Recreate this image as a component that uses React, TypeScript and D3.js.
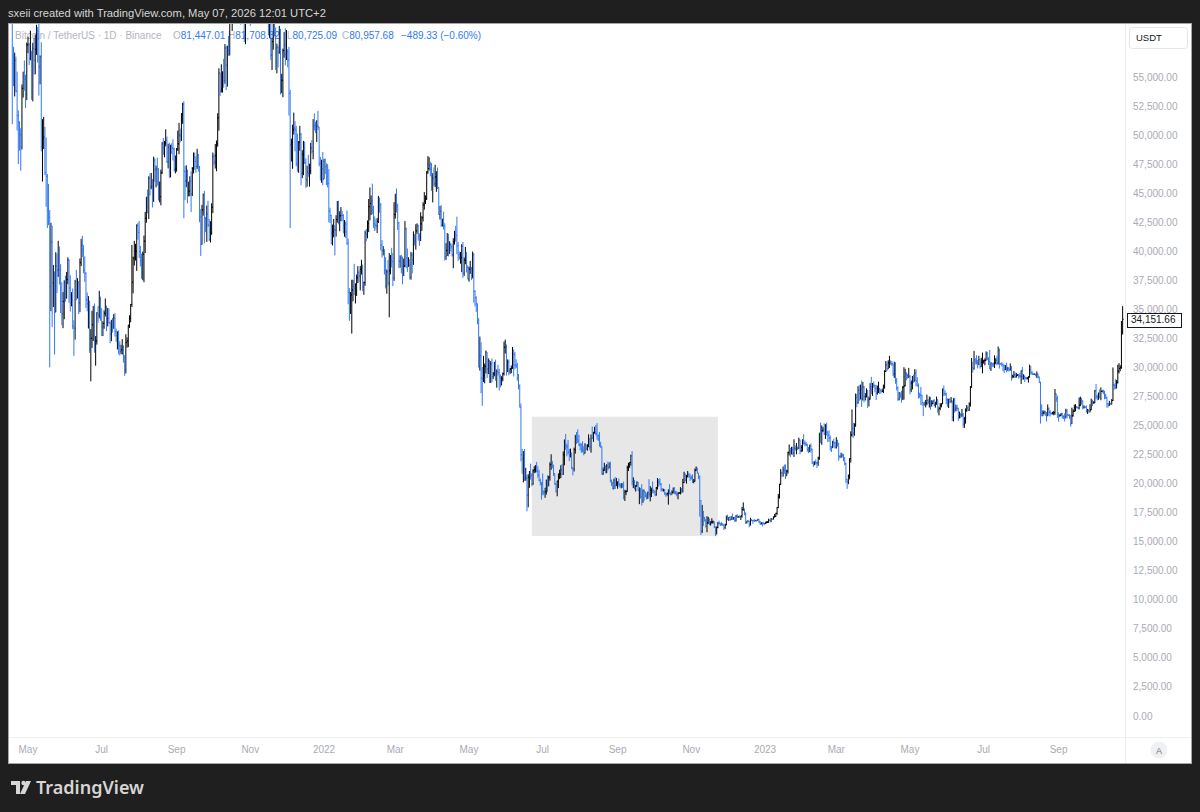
import React from 'react';
import * as d3 from 'd3';

// BTC/USDT 1D (Binance). Opens are the previous day's close.
const seriesStart = '2021-04-16';
const firstOpen = 63158;

// 2021-04-16 .. 2021-12-31
const closes2021 = [
  61334, 60006, 56150, 55633, 56425, 53787, 51690, 51125, 50047, 49004, 54021, 55033, 54824, 53555, 57750,
  57828, 56610, 57213, 53241, 57473, 56428, 57380, 58928, 58280, 55883, 56750, 49007, 49716, 49880, 46760, 46456, 43538, 42910, 36964, 40784, 37281, 37528, 34770, 38706, 38396, 39294, 38436, 35698, 34617, 35678, 37332,
  36694, 37568, 39246, 36829, 35514, 35796, 33552, 33380, 37389, 36663, 37313, 35551, 39020, 40516, 40144, 38349, 38092, 35820, 35484, 35600, 31608, 32509, 33679, 34663, 31584, 32283, 34700, 34494, 35911, 35045,
  33504, 33786, 34669, 35286, 33690, 34220, 33862, 32875, 33815, 33502, 34258, 33086, 32729, 32820, 31881, 31383, 31520, 31778, 30839, 29790, 32144, 32287, 33634, 34258, 35425, 37337, 39406, 39995, 40008, 42235, 41626,
  39975, 39201, 38152, 39747, 40869, 42836, 44614, 43829, 46285, 45543, 45606, 44428, 47834, 47024, 47100, 45973, 44696, 44705, 46760, 49339, 48905, 49321, 49546, 47706, 48960, 46942, 49058, 48903, 48811, 46991, 47112,
  48810, 49246, 49999, 49915, 51756, 52663, 46863, 46048, 46395, 44850, 45174, 46025, 44940, 47112, 48122, 47737, 47300, 48314, 47255, 42960, 40587, 43560, 44883, 42836, 42717, 43208, 42236, 41034, 41564, 43790,
  48165, 47657, 48233, 49245, 51493, 55340, 53797, 53963, 54966, 54691, 57485, 56006, 57374, 57347, 61672, 60875, 61528, 62010, 64261, 65992, 62210, 60692, 61393, 60930, 63039, 60364, 58482, 60622, 62227, 61888, 61318,
  61004, 63227, 62970, 61452, 61125, 61527, 63326, 67566, 66971, 64882, 64774, 64122, 64380, 65519, 63607, 60058, 60344, 56891, 58052, 59707, 58622, 56247, 57541, 57138, 58960, 53726, 54721, 57274, 57776, 56950,
  57185, 56480, 53601, 49152, 49397, 50441, 50588, 50471, 47545, 47140, 49389, 50053, 46702, 48343, 48864, 47632, 46131, 46834, 46681, 46914, 48889, 48588, 50838, 50820, 50400, 50775, 50701, 47543, 46465, 47120, 46216,
];
const highs2021 = [
  63520, 62500, 60499, 57600, 57100, 56757, 55460, 52130, 51166, 50591, 54356, 55460, 56428, 55195, 57963,
  58458, 57911, 58981, 57200, 57939, 58360, 58650, 59500, 59300, 59595, 56862, 58000, 51367, 51570, 50700, 49800, 46650, 45800, 43546, 42451, 42200, 38829, 38270, 39920, 39800, 40900, 40411, 38889, 37338, 36488, 37499,
  37894, 38225, 39476, 39289, 37925, 36480, 36800, 34068, 37534, 38400, 37680, 37439, 39380, 41064, 41330, 40527, 39559, 38202, 36457, 36139, 35750, 33298, 34881, 35298, 35500, 32700, 34749, 35297, 36600, 36100,
  35057, 33977, 34909, 35937, 35293, 35118, 35059, 33929, 34100, 34262, 34592, 34679, 33340, 33114, 33185, 32249, 31950, 32435, 31899, 31063, 32858, 32591, 33650, 34500, 35450, 40550, 39542, 40900, 40640, 42316, 42448,
  42599, 40459, 39785, 39969, 41350, 43392, 44700, 45310, 46456, 46700, 46743, 46218, 48144, 48000, 47372, 48053, 47160, 46000, 47033, 49382, 49757, 49500, 50500, 49875, 49251, 49349, 49170, 49311, 49646, 48909, 48246,
  48888, 50392, 51053, 50558, 51900, 52780, 52920, 47340, 47399, 47033, 45987, 46460, 46880, 47250, 48500, 48500, 48170, 48818, 48375, 47355, 43638, 44000, 44978, 45200, 42965, 43937, 44350, 42787, 42590, 44132,
  48495, 48336, 49228, 49536, 51886, 55750, 55338, 56100, 55489, 56561, 57839, 57680, 57700, 58532, 62933, 62000, 61720, 62695, 64486, 67000, 66639, 63732, 61747, 61500, 63710, 63293, 61497, 62499, 62980, 62359, 62405,
  62437, 64270, 63500, 63086, 62590, 61560, 63330, 67789, 68530, 69000, 65600, 65460, 64972, 65550, 66401, 63617, 60840, 60976, 58366, 59845, 60029, 59266, 57875, 57700, 59398, 59150, 55280, 57445, 58865, 59176,
  59041, 57400, 57600, 53904, 49699, 50891, 51936, 51200, 50797, 50125, 49485, 50797, 50189, 48700, 49500, 49436, 47995, 47360, 48300, 47537, 49328, 49576, 51375, 51868, 51156, 51280, 52088, 50704, 48119, 47879, 48548,
];
const lows2021 = [
  60000, 59580, 50931, 54221, 53329, 53695, 50400, 47500, 48657, 46930, 48753, 53222, 53813, 52330, 53013,
  57052, 56035, 56435, 53046, 52900, 55200, 55241, 56900, 56235, 53400, 54370, 48600, 46000, 48800, 46560, 43825, 42001, 42250, 30000, 34850, 33488, 35200, 31111, 34800, 36419, 37800, 37134, 34684, 33632, 33379, 34153,
  35666, 35920, 37170, 35567, 34800, 35258, 33300, 31000, 32397, 35783, 35936, 34600, 34757, 38730, 39506, 38116, 37365, 35129, 34833, 33350, 31251, 28805, 31683, 32286, 31275, 30151, 31970, 33862, 34225, 34017,
  32711, 32699, 33330, 34390, 33125, 33532, 33777, 32077, 32261, 33005, 33320, 32658, 32202, 31550, 31133, 31020, 31164, 31108, 30407, 29278, 29482, 31708, 31750, 33401, 33881, 35205, 36383, 38772, 39200, 38313, 41000,
  39422, 38690, 37627, 37508, 37332, 39853, 42450, 43261, 42779, 44800, 45341, 43770, 44250, 45971, 45500, 45660, 44376, 44203, 43955, 46644, 48300, 48088, 49030, 47600, 47136, 46315, 46362, 48370, 47812, 46870, 46700,
  46853, 48631, 48353, 49370, 49495, 50969, 42843, 44412, 45514, 44132, 44722, 44742, 43370, 44750, 46700, 47020, 46750, 47088, 46850, 42500, 39600, 40565, 43069, 40675, 41646, 40803, 42098, 40888, 40753, 41410,
  43283, 47430, 47120, 46891, 49000, 50382, 53357, 53661, 53661, 54080, 54415, 53879, 54167, 56818, 56850, 60150, 58963, 60876, 61322, 63481, 62000, 60000, 59668, 59510, 60650, 59817, 58000, 57820, 60174, 60673, 59945,
  59405, 60624, 60382, 60677, 60721, 60050, 61322, 63300, 66382, 62822, 64100, 62333, 63400, 63576, 63400, 58574, 58373, 56474, 55600, 57353, 58486, 55610, 55317, 55837, 57000, 53500, 53610, 53256, 56666, 56000,
  56458, 55837, 51680, 42000, 47727, 47100, 50039, 48600, 47320, 46852, 46751, 48650, 45672, 46290, 46547, 47511, 45456, 45555, 46406, 45558, 46630, 48421, 47920, 50400, 50171, 49412, 50449, 47313, 46096, 45900, 45678,
];

// 2022-01-01 .. 2022-12-31
const closes2022 = [
  47722, 47286, 46446, 45833, 43451, 43082, 41567, 41671, 41864, 41822, 42729, 43903, 42560, 43059, 43084, 43071, 42201, 42352, 41660, 40680, 36445, 35071, 36244, 36660, 36958, 36809, 37160, 37716, 38166, 37881, 38466,
  38694, 36896, 37311, 41574, 41382, 42380, 43840, 44118, 44338, 43565, 42407, 42244, 42197, 42586, 44575, 43961, 40538, 40030, 40123, 38386, 37008, 38230, 37250, 38328, 39219, 39116, 37699, 43160,
  44421, 43892, 42454, 39148, 39397, 38420, 37988, 38730, 41941, 39422, 38730, 38807, 37777, 39671, 39280, 41114, 40917, 41757, 42201, 41262, 41002, 42364, 42882, 43991, 44313, 44511, 46827, 47122, 47434, 47067, 45510,
  46283, 45811, 46407, 46580, 45497, 43170, 43445, 42252, 42753, 42158, 39530, 40074, 41147, 39942, 40551, 40378, 39678, 40801, 41493, 41358, 40480, 39709, 39441, 39450, 40427, 38112, 39235, 39742, 38596, 37630,
  38468, 38525, 37728, 39690, 36552, 36013, 35472, 34038, 30077, 31017, 29104, 28995, 29283, 30101, 31305, 29862, 30425, 28720, 30314, 29201, 29445, 30293, 29109, 29655, 29542, 29201, 28629, 29031, 29468, 31735, 31802,
  29805, 30452, 29700, 29864, 29920, 31373, 31125, 30205, 30110, 29091, 28424, 26574, 22487, 22136, 22583, 20401, 20469, 19017, 20554, 20720, 20719, 19987, 21111, 21227, 21493, 21039, 20730, 20280, 20105, 19942,
  19279, 19252, 19315, 20231, 20190, 20548, 21637, 21731, 21592, 20860, 19970, 19323, 20212, 20569, 20837, 21191, 20782, 22485, 23389, 23231, 23164, 22714, 22465, 22609, 21361, 21239, 22930, 23843, 23804, 23656, 23336,
  23314, 22978, 22846, 22630, 23289, 22961, 23175, 23810, 23150, 23954, 23935, 24404, 24442, 24306, 24102, 23855, 23343, 23191, 20834, 21140, 21516, 21400, 21529, 21368, 21560, 20241, 20037, 19555, 20285, 19811, 20050,
  20131, 19951, 19832, 19986, 19812, 18837, 19290, 19319, 21361, 21652, 21826, 22395, 20173, 20226, 19701, 19803, 20113, 19416, 19537, 18875, 18461, 19401, 19289, 18920, 18807, 19226, 19079, 19412, 19591, 19422,
  19310, 19056, 19629, 20337, 20158, 19955, 19531, 19417, 19446, 19141, 19052, 19157, 19382, 19185, 19068, 19268, 19550, 19334, 19139, 19053, 19172, 19208, 19567, 19345, 20095, 20771, 20295, 20591, 20810, 20627, 20491,
  20483, 20151, 20207, 21148, 21300, 20905, 20591, 18547, 15922, 17601, 17070, 16813, 16330, 16620, 16900, 16662, 16692, 16700, 16700, 16280, 15781, 16226, 16603, 16598, 16522, 16458, 16428, 16213, 16442, 17163,
  16980, 17094, 16886, 17108, 16966, 17089, 16836, 17224, 17128, 17128, 17085, 17208, 17775, 17804, 17357, 16633, 16776, 16738, 16439, 16896, 16824, 16822, 16778, 16837, 16832, 16919, 16706, 16547, 16633, 16607, 16542,
];
const highs2022 = [
  47954, 47990, 47570, 47505, 47070, 43748, 43145, 42300, 42786, 42248, 43100, 44322, 44350, 43448, 43800, 43475, 43196, 42691, 42559, 43505, 41100, 36835, 36499, 37550, 37545, 38919, 37234, 38000, 38720, 38359, 38744,
  39265, 38855, 37387, 41772, 41913, 42656, 44500, 45492, 44799, 45821, 43920, 43000, 42760, 42876, 44769, 44583, 44164, 40959, 40444, 40150, 39494, 38429, 39249, 39843, 39683, 40300, 39855, 44225,
  44949, 45400, 44101, 42527, 39640, 39693, 39547, 39362, 42594, 42039, 40236, 39486, 39310, 39947, 39887, 41718, 41478, 42325, 42400, 42296, 41544, 43361, 43025, 44220, 45094, 44810, 46890, 48189, 48096, 47700, 47600,
  46720, 47213, 47444, 46890, 47200, 45507, 43900, 43970, 42800, 43410, 42414, 40699, 41561, 41500, 40870, 40709, 40595, 41116, 41760, 42199, 42976, 40795, 39980, 39940, 40616, 40797, 39474, 40372, 39925, 38795,
  38675, 39167, 38651, 39974, 39845, 36650, 36130, 35502, 34243, 32659, 32162, 30033, 30999, 30329, 31460, 31308, 30788, 30664, 30545, 30777, 29607, 30487, 30670, 29835, 30223, 29887, 29398, 29250, 29562, 32222, 32399,
  31982, 30690, 30675, 29950, 30170, 31765, 31550, 31329, 30701, 30384, 29440, 28544, 26895, 23000, 22800, 22980, 21365, 20755, 20815, 21090, 21723, 20900, 21233, 21500, 21600, 21868, 21500, 21190, 20433, 20141,
  20877, 19433, 19646, 20353, 20728, 20676, 21838, 22527, 21954, 21608, 20880, 20048, 20248, 20880, 21200, 21580, 21684, 22777, 23800, 24276, 23442, 23756, 22990, 23014, 22654, 21360, 23100, 24199, 24442, 24668, 24194,
  23509, 23459, 23647, 23218, 23475, 23354, 23400, 24245, 23925, 24226, 24918, 24458, 24889, 25047, 25211, 24247, 24446, 23600, 23203, 21382, 21800, 21522, 21680, 21900, 21819, 21886, 20357, 20160, 20432, 20580, 20490,
  20205, 20444, 20056, 20000, 20057, 20180, 19464, 19458, 21550, 21800, 21850, 22488, 22799, 20550, 20330, 19888, 20189, 20140, 19686, 19634, 19956, 19500, 19500, 19311, 19180, 19315, 20385, 19790, 19645, 20185,
  19484, 19395, 19719, 20475, 20365, 20456, 20055, 19614, 19558, 19525, 19258, 19217, 19509, 19951, 19228, 19420, 19666, 19707, 19360, 19347, 19250, 19257, 19695, 19601, 20413, 21020, 20875, 20750, 21085, 20931, 20841,
  20700, 20800, 20394, 21302, 21480, 21369, 20905, 20700, 18587, 18171, 17660, 17140, 16951, 17198, 17134, 17000, 16750, 17017, 16820, 16750, 16290, 16310, 16680, 16812, 16610, 16690, 16600, 16480, 16550, 17250,
  17320, 17105, 17159, 17200, 17425, 17107, 17142, 17298, 17360, 17227, 17270, 17241, 18000, 18387, 17847, 17534, 16800, 16875, 16815, 17061, 16916, 16869, 16959, 16866, 16860, 16939, 16972, 16785, 16664, 16644, 16628,
];
const lows2022 = [
  46208, 46654, 45696, 45502, 42500, 42430, 40611, 40501, 41200, 39650, 41268, 42460, 42320, 41725, 42577, 42591, 41540, 41250, 41138, 40553, 35440, 34008, 34601, 32917, 35701, 36234, 35507, 36155, 37268, 37351, 36632,
  38000, 36586, 36250, 37026, 40843, 41116, 41645, 42666, 43117, 43187, 42000, 41748, 41866, 41571, 42427, 43310, 40073, 39450, 39640, 38000, 36800, 36350, 37036, 34322, 38014, 38600, 37000, 37450,
  42809, 43334, 41832, 38550, 38588, 38088, 37155, 37867, 38656, 38539, 38223, 38660, 37578, 37554, 38098, 38828, 40500, 40135, 41499, 40911, 40467, 40875, 41751, 42560, 43578, 44072, 44421, 46663, 46950, 46445, 45200,
  44200, 45620, 45530, 45118, 45353, 43121, 42727, 42107, 42125, 41868, 39200, 39254, 39588, 39551, 39766, 39991, 39546, 38536, 40571, 40820, 39751, 39177, 39285, 38929, 38200, 37702, 37881, 38881, 38175, 37578,
  37386, 38052, 37517, 37670, 35571, 35258, 34785, 33713, 30000, 29730, 27785, 26700, 28751, 28630, 29480, 29075, 29422, 28654, 28671, 28730, 29000, 29237, 28866, 28260, 29294, 28019, 28282, 28450, 28810, 29300, 31200,
  29301, 29595, 29329, 29450, 29505, 29885, 29218, 29843, 29944, 28850, 28099, 26560, 21925, 20846, 20111, 20232, 20246, 17622, 17960, 19637, 20348, 19770, 19890, 20900, 20950, 20968, 20500, 20200, 19850, 18626,
  19000, 19003, 18781, 19051, 19305, 19762, 20256, 21189, 21319, 20655, 19900, 19241, 18910, 19619, 20383, 20475, 20755, 20761, 21579, 22906, 22341, 22500, 21934, 22257, 21250, 20706, 21044, 22582, 23414, 23502, 23227,
  22850, 22655, 22681, 22434, 22587, 22921, 22841, 23155, 22865, 22665, 23865, 23596, 24291, 24150, 23773, 23671, 23181, 23081, 20783, 20761, 21105, 20890, 20891, 21140, 21312, 20112, 19800, 19521, 19540, 19540, 19800,
  19565, 19754, 19655, 19597, 19635, 18649, 18510, 19011, 19300, 21084, 21357, 21552, 19860, 19620, 19497, 19320, 19748, 19388, 18232, 18711, 18125, 18356, 18532, 18817, 18629, 18680, 18816, 18471, 18843, 19155,
  19159, 18920, 18959, 19493, 19730, 19853, 19320, 19337, 19316, 19021, 18860, 18966, 18190, 19070, 18976, 19063, 19157, 19100, 19070, 18900, 18650, 19135, 19070, 19157, 19240, 20061, 20200, 20000, 20554, 20515, 20237,
  20348, 20048, 20031, 20180, 21080, 20880, 20386, 17166, 15588, 15754, 16361, 16749, 16229, 15815, 16530, 16412, 16393, 16553, 16560, 16180, 15476, 15630, 16160, 16460, 16350, 16400, 16400, 16000, 16100, 16420,
  16855, 16787, 16863, 16873, 16867, 16906, 16678, 16733, 17058, 17085, 17071, 16873, 17082, 17660, 17275, 16527, 16584, 16663, 16256, 16398, 16749, 16559, 16743, 16785, 16721, 16789, 16592, 16465, 16488, 16333, 16488,
];

// 2023-01-01 .. 2023-10-24
const closes2023 = [
  16616, 16672, 16675, 16850, 16831, 16951, 16943, 17127, 17178, 17440, 17944, 18846, 19930, 20955, 20871, 21185, 21132, 20677, 21072, 22666, 22784, 22707, 22916, 22632, 23060, 23009, 23074, 23022, 23742, 22827, 23125,
  23732, 23488, 23431, 23326, 22932, 22762, 23240, 22963, 21796, 21625, 21862, 21783, 21773, 22199, 24324, 23517, 24569, 24631, 24271, 24842, 24452, 24182, 23940, 23185, 23157, 23554, 23492, 23141,
  23628, 23466, 22354, 22346, 22430, 22410, 22197, 21705, 20363, 20187, 20633, 22163, 24197, 24746, 24375, 25052, 27423, 26965, 28038, 27767, 28175, 27307, 28333, 27493, 27494, 27994, 27140, 27268, 28348, 28033, 28478,
  28411, 28199, 27790, 28168, 28175, 28044, 27925, 27947, 28333, 29653, 30235, 29891, 30399, 30485, 30318, 30315, 29445, 30397, 28822, 28245, 27262, 27816, 27590, 27514, 28300, 28415, 29473, 29311, 29230, 29233,
  28068, 28669, 29026, 28838, 29506, 28848, 28430, 27668, 27628, 27598, 26969, 26805, 26784, 26930, 27169, 27033, 27405, 26822, 26890, 27111, 26747, 26851, 27225, 26334, 26477, 26719, 26868, 28085, 27745, 27702, 27219,
  26819, 27249, 27069, 27115, 25728, 27230, 26339, 26498, 26477, 25841, 25925, 25903, 25922, 25125, 25575, 26327, 26510, 26336, 26841, 28307, 29993, 29885, 30688, 30528, 30462, 30267, 30692, 30077, 30445, 30477,
  30590, 30620, 31156, 30767, 30504, 29895, 30346, 30293, 30171, 30414, 30620, 30392, 31476, 30335, 30297, 30249, 30145, 29857, 29910, 29800, 29909, 29798, 30083, 29177, 29228, 29353, 29212, 29314, 29352, 29281, 29232,
  29705, 29187, 29193, 29113, 29072, 29079, 29183, 29765, 29561, 29429, 29397, 29416, 29282, 29408, 29170, 28701, 26621, 26048, 26096, 26189, 26124, 26040, 26431, 26163, 26059, 26004, 26089, 26106, 27727, 27297, 25931,
  25800, 25869, 25969, 25812, 25779, 25753, 26240, 25906, 25895, 25832, 25162, 25840, 26223, 26530, 26608, 26568, 26527, 26762, 27211, 27133, 26567, 26580, 26579, 26256, 26298, 26212, 26353, 27022, 26907, 26962,
  27983, 27494, 27426, 27778, 27412, 27931, 27956, 27917, 27591, 27390, 26875, 26756, 26862, 26852, 27154, 28500, 28395, 28320, 28713, 29669, 29909, 29993, 33069, 34151.66,
];
const highs2023 = [
  16630, 16760, 16773, 16985, 16878, 17041, 16981, 17176, 17398, 17489, 17990, 19117, 19996, 21258, 21050, 21474, 21647, 21650, 21192, 22755, 23372, 23078, 23165, 23180, 23816, 23282, 23500, 23185, 23960, 23790, 23311,
  23812, 24255, 23715, 23587, 23433, 23158, 23350, 23450, 23011, 21938, 21906, 22090, 21890, 22320, 24380, 25250, 25021, 24877, 25190, 25121, 25250, 24476, 24599, 24132, 23219, 23689, 23880, 23600,
  24000, 23780, 23476, 22410, 22662, 22603, 22549, 22267, 21815, 20367, 20792, 22185, 24500, 26386, 25250, 25196, 27756, 27725, 28390, 28472, 28528, 28868, 28754, 28400, 27791, 28200, 28036, 27500, 28650, 29184, 28660,
  28800, 28529, 28500, 28444, 28775, 28190, 28100, 28179, 28530, 29770, 30550, 30485, 30620, 31000, 30604, 30549, 30320, 30488, 30411, 29100, 28374, 27876, 27820, 28000, 28400, 30020, 29887, 29599, 29450, 29960,
  29337, 28880, 29266, 29379, 29850, 29820, 29168, 28631, 27832, 28331, 27625, 26998, 27050, 27200, 27655, 27278, 27500, 27465, 27183, 27150, 27280, 27050, 27495, 27220, 26622, 26931, 26917, 28195, 28447, 28045, 27834,
  27350, 27300, 27339, 27455, 27130, 27355, 27387, 26800, 26785, 26529, 26200, 26082, 26435, 26091, 25750, 26474, 26768, 26680, 26999, 28400, 30812, 30500, 31432, 30800, 31050, 30653, 31000, 30705, 30833, 31280,
  30662, 30790, 31381, 31325, 30875, 31500, 30449, 30383, 30440, 31045, 30800, 30993, 31804, 31630, 30390, 30456, 30340, 30244, 30200, 30417, 30050, 29998, 30350, 30100, 29375, 29690, 29574, 29530, 29415, 29450, 29529,
  29743, 30047, 29409, 29315, 29121, 29175, 29244, 30244, 30131, 29700, 29540, 29475, 29444, 29660, 29475, 29220, 28784, 26835, 26296, 26299, 26253, 26139, 26816, 26560, 26316, 26126, 26180, 26253, 28142, 27760, 27575,
  26125, 25970, 26087, 26100, 25868, 26049, 26445, 26432, 25945, 25985, 25880, 26539, 26400, 26800, 26840, 26625, 26620, 27409, 27489, 27385, 27159, 26745, 26620, 26735, 26430, 26398, 26831, 27315, 27226, 27090,
  28065, 28580, 27667, 27838, 28120, 28285, 28033, 28099, 27988, 27734, 27475, 26938, 27130, 26965, 27289, 30000, 28613, 28980, 28929, 30234, 30368, 30200, 34000, 35280,
];
const lows2023 = [
  16499, 16573, 16606, 16646, 16753, 16675, 16908, 16911, 17101, 17143, 17315, 17892, 18715, 19889, 20551, 20611, 20850, 20407, 20661, 20867, 22422, 22292, 22513, 22450, 22300, 22850, 22527, 22875, 22972, 22526, 22714,
  22760, 23363, 23207, 23253, 22755, 22628, 22745, 22666, 21688, 21451, 21599, 21630, 21351, 21532, 22047, 23505, 23339, 24433, 24200, 23840, 24148, 23574, 23608, 22841, 22722, 23060, 23105, 23020,
  23020, 23195, 21971, 22160, 22212, 22258, 21927, 21580, 20050, 19549, 19950, 20367, 21813, 24050, 23930, 24123, 24890, 26578, 26880, 27124, 27242, 26601, 27150, 27000, 27157, 27419, 26508, 26650, 27239, 27700, 27555,
  28240, 27870, 27200, 27662, 27805, 27711, 27766, 27881, 27800, 28170, 29610, 29700, 29870, 29966, 30227, 30120, 29268, 29100, 28600, 28011, 27125, 27165, 27350, 26970, 27200, 27235, 28378, 28891, 29036, 29088,
  27680, 27873, 28107, 28669, 28800, 28383, 28373, 27322, 27361, 26777, 26707, 25811, 26701, 26560, 26750, 26850, 26547, 26365, 26632, 26854, 26666, 26540, 26800, 26079, 25871, 26325, 26563, 26860, 27537, 27572, 26841,
  26605, 26506, 26916, 26951, 25388, 25351, 26116, 26224, 26284, 25400, 25611, 25632, 25733, 24821, 24800, 25160, 26186, 26280, 26254, 26624, 28265, 29555, 29810, 30252, 30250, 29920, 30200, 29900, 30034, 29500,
  30320, 30180, 30600, 30633, 30200, 29850, 29701, 30033, 30048, 29950, 30270, 30200, 30254, 29901, 30250, 30075, 29668, 29520, 29765, 29565, 29721, 29640, 29731, 28861, 29067, 29100, 29100, 29124, 29256, 29033, 29113,
  28585, 28945, 28960, 28750, 28956, 28971, 28701, 29123, 29400, 29350, 29350, 29357, 29250, 29100, 29050, 28700, 25166, 25800, 25800, 25966, 25812, 25350, 25797, 25864, 25777, 25981, 25966, 25880, 25922, 27025, 25655,
  25333, 25780, 25810, 25600, 25568, 25350, 25606, 25645, 25810, 25580, 24901, 25131, 25765, 26160, 26224, 26478, 26400, 26385, 26674, 26800, 26390, 26455, 26525, 26120, 26000, 26100, 26136, 26330, 26680, 26887,
  26954, 27280, 27160, 27215, 27330, 27180, 27860, 27700, 27260, 27300, 26538, 26555, 26687, 26820, 26817, 27113, 28080, 28142, 28182, 28610, 29477, 29676, 29883, 32832,
];

const priceTicks = [
  0, 2500, 5000, 7500, 10000, 12500, 15000, 17500, 20000, 22500, 25000, 27500,
  30000, 32500, 35000, 37500, 40000, 42500, 45000, 47500, 50000, 52500, 55000,
];
const timeTickDates = [
  '2021-05-01', '2021-07-01', '2021-09-01', '2021-11-01', '2022-01-01', '2022-03-01', '2022-05-01', '2022-07-01',
  '2022-09-01', '2022-11-01', '2023-01-01', '2023-03-01', '2023-05-01', '2023-07-01', '2023-09-01',
];
const timeTickLabels = ['May', 'Jul', 'Sep', 'Nov', '2022', 'Mar', 'May', 'Jul', 'Sep', 'Nov', '2023', 'Mar', 'May', 'Jul', 'Sep'];

// shaded rectangle drawn on the chart
const boxStart = '2022-06-22';
const boxEnd = '2022-11-23';
const boxLow = 15500;
const boxHigh = 25760;

const legendKeys = ['O', 'H', 'L', 'C'];
const legendValues = ['81,447.01', '81,708.32', '80,725.09', '80,957.68'];
const legendChange = '\u2212489.33 (\u22120.60%)';
const symbolTitle = 'Bitcoin / TetherUS \u00b7 1D \u00b7 Binance';
const headerText = 'sxeii created with TradingView.com, May 07, 2026 12:01 UTC+2';

const UP = '#000000';
const DOWN = '#3179f5';
const FONT = '"Liberation Sans", Arial, sans-serif';

const utc = (s: string) => new Date(s + 'T00:00:00Z');

export default function App() {
  const closes = [...closes2021, ...closes2022, ...closes2023];
  const highs = [...highs2021, ...highs2022, ...highs2023];
  const lows = [...lows2021, ...lows2022, ...lows2023];

  const x = d3.scaleUtc().domain([utc('2022-01-01'), utc('2023-01-01')]).range([324, 765]);
  const y = d3.scaleLinear().domain([0, 55000]).range([716, 77]);
  const fmt = d3.format(',.2f');

  const start = utc(seriesStart);
  const up = d3.path();
  const down = d3.path();
  closes.forEach((c, i) => {
    const o = i === 0 ? firstOpen : closes[i - 1];
    const h = Math.max(highs[i], o, c);
    const l = Math.min(lows[i], o, c);
    const bx = x(d3.utcDay.offset(start, i));
    const p = c >= o ? up : down;
    p.moveTo(bx, y(h));
    p.lineTo(bx, y(l));
    p.moveTo(bx - 1, y(o));
    p.lineTo(bx, y(o));
    p.moveTo(bx, y(c));
    p.lineTo(bx + 1, y(c));
  });

  const lastClose = closes[closes.length - 1];

  // x of each O/H/L/C key in the legend line
  const legendX = [173, 228, 287, 342];

  return (
    <div style={{ position: 'absolute', left: 0, top: 0 }}>
      <svg width={1200} height={812} style={{ display: 'block' }} fontFamily={FONT}>
        <defs>
          <clipPath id="plot">
            <rect x={9} y={24} width={1116} height={713} />
          </clipPath>
        </defs>
        <rect width={1200} height={812} fill="#1f1f1f" />
        <text x={8} y={17} fill="#d6d6d6" fontSize={11.2}>{headerText}</text>

        {/* chart panel */}
        <rect x={8.5} y={23.5} width={1183} height={740} fill="#ffffff" stroke="#a6a6a6" />
        <line x1={1125.5} x2={1125.5} y1={24} y2={763} stroke="#ececec" />
        <line x1={9} x2={1191} y1={737.5} y2={737.5} stroke="#f0f0f0" />

        {/* legend sits under the bars */}
        <text x={15} y={39} fontSize={10} fill="#b2b5be">{symbolTitle}</text>
        {legendKeys.map((k, i) => (
          <text key={k} x={legendX[i]} y={39} fontSize={10}>
            <tspan fill="#b2b5be">{k}</tspan>
            <tspan fill={DOWN}>{legendValues[i]}</tspan>
          </text>
        ))}
        <text x={401} y={39} fontSize={10} fill={DOWN}>{legendChange}</text>

        <g clipPath="url(#plot)">
          <rect
            x={x(utc(boxStart))}
            y={y(boxHigh)}
            width={x(utc(boxEnd)) - x(utc(boxStart))}
            height={y(boxLow) - y(boxHigh)}
            fill="#e7e7e7"
          />
          <path d={up.toString()} stroke={UP} strokeWidth={1} fill="none" />
          <path d={down.toString()} stroke={DOWN} strokeWidth={1} fill="none" />
        </g>

        {/* price scale */}
        {priceTicks.map((t) => (
          <text key={t} x={1133} y={y(t) + 3.5} fontSize={10} fill="#a9abb3">{fmt(t)}</text>
        ))}
        <rect x={1127.5} y={313.5} width={54} height={14} fill="#ffffff" stroke="#131722" />
        <text x={1131} y={y(lastClose) + 4} fontSize={10} fill="#131722">{fmt(lastClose)}</text>
        <rect x={1129.5} y={27.5} width={58} height={21} rx={3} fill="#ffffff" stroke="#e3e4e8" />
        <text x={1136} y={41} fontSize={9.5} fill="#131722">USDT</text>

        {/* time scale */}
        {timeTickDates.map((d, i) => (
          <text key={d} x={x(utc(d))} y={753} fontSize={10} fill="#a9abb3" textAnchor="middle">
            {timeTickLabels[i]}
          </text>
        ))}
        <circle cx={1159} cy={750} r={8.5} fill="#f0f1f3" />
        <text x={1159} y={753.5} fontSize={9} fill="#6f7380" textAnchor="middle">A</text>

        {/* footer logo */}
        <g transform="translate(11,779)">
          <path d="M0 2 H9 V15 H5 V6 H0 Z" fill="#d6d6d6" />
          <circle cx={12.5} cy={4} r={2.2} fill="#d6d6d6" />
          <path d="M15 2 H20 L14 15 H9 Z" fill="#d6d6d6" />
        </g>
        <text x={36} y={794} fill="#d6d6d6" fontSize={18} fontWeight={600} fontFamily='"Noto Sans", "Open Sans", sans-serif'>TradingView</text>
      </svg>
    </div>
  );
}
